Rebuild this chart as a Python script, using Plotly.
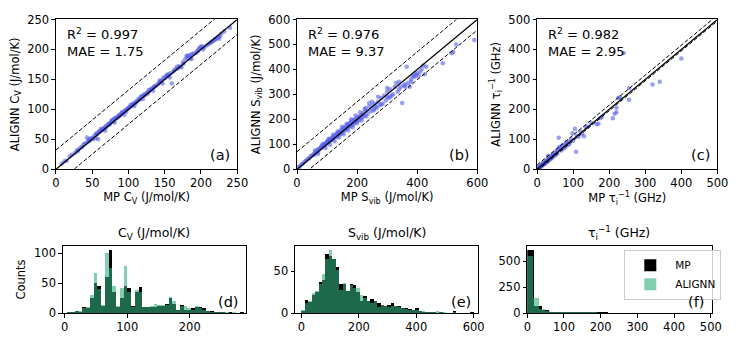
import plotly.graph_objects as go

W, H = 748, 346
FONT = "DejaVu Sans"

# ---- parity data ----
cv_mp = [8, 12, 15, 19, 22, 26, 29, 31, 34, 36, 38, 40, 42, 43, 45, 46, 48, 50, 51, 53,
         55, 56, 57, 58, 59, 60, 61, 63, 64, 66, 67, 69, 70, 72, 73, 75, 76, 78, 79, 80,
         82, 83, 85, 86, 87, 89, 90, 92, 93, 95, 96, 98, 99, 101, 102, 104, 106, 107, 109, 111,
         112, 114, 116, 118, 119, 121, 123, 125, 127, 129, 131, 133, 135, 136, 138, 140, 142, 144, 146, 148,
         150, 152, 154, 156, 158, 160, 163, 165, 168, 170, 172, 175, 178, 180, 182, 184, 186, 188, 190, 193,
         196, 199, 202, 205, 208, 211, 214, 217, 220, 222, 224, 226, 240,
         30, 47, 65, 74, 84, 88, 97, 100, 105, 110, 115, 122, 126, 132, 145, 155, 162, 176, 185, 195,
         200, 215, 225, 228, 232,
         45, 55, 62, 68, 77, 81, 91, 94, 103, 108, 117, 120, 128, 134, 143, 147, 153, 157, 167, 173,
         181, 187, 197, 203, 213, 219]
cv_al = [9, 13, 14, 21, 24, 27, 31, 33, 36, 37, 41, 42, 44, 53, 46, 48, 51, 52, 50, 56,
         58, 60, 59, 50, 62, 63, 64, 65, 66, 69, 68, 72, 71, 75, 76, 77, 79, 82, 80, 84,
         85, 86, 87, 89, 88, 91, 93, 94, 96, 97, 99, 100, 101, 103, 104, 106, 107, 110, 110, 113,
         114, 117, 117, 120, 122, 123, 124, 127, 128, 131, 133, 135, 137, 139, 139, 142, 144, 146, 148, 153,
         152, 155, 158, 158, 160, 143, 165, 167, 168, 172, 171, 178, 183, 189, 190, 188, 191, 192, 193, 194,
         197, 203, 205, 204, 207, 209, 212, 214, 217, 219, 221, 222, 236,
         30, 49, 67, 74, 85, 90, 96, 102, 108, 111, 116, 125, 126, 134, 147, 156, 163, 176, 185, 198,
         205, 213, 218, 226, 230,
         49, 52, 67, 64, 81, 78, 95, 91, 107, 105, 121, 117, 132, 131, 148, 143, 157, 153, 171, 170,
         186, 184, 201, 200, 211, 216]

sv_mp = [5, 10, 15, 20, 25, 30, 35, 40, 45, 50, 55, 58, 60, 65, 68, 70, 72, 75, 78, 80,
         82, 85, 88, 90, 92, 95, 98, 100, 102, 105, 108, 110, 112, 115, 118, 120, 122, 125, 128, 130,
         133, 135, 138, 140, 143, 145, 148, 150, 152, 155, 158, 160, 163, 165, 168, 170, 172, 175, 178, 180,
         183, 185, 188, 190, 193, 195, 198, 200, 203, 205, 208, 210, 213, 215, 218, 220, 225, 230, 235, 240,
         245, 250, 255, 260, 265, 270, 275, 280, 285, 290, 295, 300, 305, 310, 315, 320, 325, 330, 335, 340,
         345, 350, 355, 360, 365, 370, 375, 380, 385, 390, 395, 400, 405, 410, 415, 420, 425, 430, 485, 515,
         520, 530, 590, 240, 228, 262, 300,
         60, 70, 85, 95, 105, 110, 120, 125, 135, 140, 150, 155, 165, 170, 180, 185, 195, 200, 210, 215,
         225, 230, 250, 255, 270, 280, 300, 310, 340, 360, 380, 395]
sv_al = [8, 12, 20, 22, 30, 35, 40, 44, 52, 55, 60, 58, 68, 72, 70, 80, 76, 82, 85, 90,
         86, 95, 92, 100, 96, 105, 102, 112, 108, 115, 110, 120, 116, 125, 118, 130, 124, 135, 130, 140,
         128, 145, 138, 150, 140, 155, 145, 160, 150, 165, 155, 168, 160, 175, 165, 180, 170, 185, 172, 190,
         178, 195, 180, 198, 186, 200, 190, 205, 195, 210, 198, 212, 205, 218, 208, 225, 215, 235, 222, 250,
         232, 255, 240, 262, 245, 270, 255, 285, 262, 295, 275, 310, 285, 320, 295, 300, 330, 345, 310, 320,
         330, 265, 335, 340, 410, 345, 330, 360, 370, 375, 380, 385, 375, 390, 400, 415, 380, 410, 425, 465,
         470, 500, 518, 265, 245, 250, 290,
         75, 62, 100, 85, 122, 98, 138, 112, 150, 128, 170, 140, 182, 155, 200, 168, 215, 185, 228, 195,
         240, 212, 270, 235, 290, 260, 325, 290, 350, 330, 350, 370]

tau_mp = [2, 4, 5, 6, 8, 9, 10, 12, 13, 14, 15, 16, 18, 19, 20, 22, 23, 24, 25, 27,
          28, 29, 30, 31, 32, 34, 35, 36, 38, 40, 41, 43, 45, 46, 48, 50, 52, 54, 56, 58,
          60, 61, 63, 65, 67, 70, 72, 75, 78, 80, 82, 85, 88, 90, 95, 98, 100, 105, 108, 110,
          115, 120, 125, 130, 135, 140, 150, 165, 170, 175, 180, 210, 215, 220, 220, 225, 230, 240, 255, 255,
          320, 340, 400]
tau_al = [3, 6, 3, 8, 7, 12, 10, 9, 15, 12, 18, 14, 20, 16, 22, 18, 25, 21, 28, 24,
          30, 26, 45, 33, 28, 38, 32, 40, 35, 44, 37, 48, 42, 50, 45, 55, 48, 60, 52, 62,
          105, 70, 75, 68, 62, 80, 68, 78, 72, 85, 90, 80, 92, 85, 100, 120, 95, 135, 58, 112,
          108, 125, 118, 110, 140, 142, 155, 150, 152, 170, 175, 170, 185, 190, 205, 238, 240, 388, 232, 270,
          283, 292, 370]

# parity band offsets (upper, lower) drawn around y = x
cv_band = [32, -25]
sv_band = [70, -42]
tau_band = [14, -5]

# ---- histogram data ----
cv_bin_start, cv_bin_w = 4, 6
cv_hist_mp = [1, 2, 3, 2, 10, 9, 25, 50, 45, 12, 60, 105, 35, 10, 25, 45, 42, 12, 35, 43,
              10, 10, 10, 10, 12, 12, 15, 25, 15, 5, 13, 5, 5, 8, 10, 10, 8, 3, 3, 2,
              1, 1, 0, 1, 0, 0, 1, 0]
cv_hist_al = [1, 2, 3, 3, 8, 10, 30, 67, 40, 14, 100, 75, 45, 12, 42, 78, 35, 10, 38, 35,
              10, 10, 12, 15, 13, 14, 13, 27, 20, 5, 12, 12, 8, 6, 12, 9, 6, 4, 2, 1,
              1, 1, 1, 0, 1, 0, 0, 0]

sv_bin_start, sv_bin_w = 0, 12
sv_hist_mp = [3, 16, 13, 22, 25, 37, 40, 70, 68, 65, 55, 35, 35, 27, 35, 33, 25, 15, 20, 15,
              17, 15, 12, 10, 8, 10, 12, 9, 8, 6, 6, 5, 4, 6, 2, 1, 1, 1, 1, 0,
              1, 0, 0, 0, 2, 0, 0, 0, 0, 1]
sv_hist_al = [4, 12, 15, 24, 27, 35, 47, 65, 75, 65, 52, 28, 36, 27, 33, 30, 30, 22, 18, 14,
              12, 14, 7, 10, 9, 7, 9, 8, 7, 6, 5, 4, 4, 4, 3, 2, 1, 1, 1, 2,
              1, 1, 0, 0, 1, 0, 0, 0, 0, 0]

tau_bin_start, tau_bin_w_mp, tau_bin_w_al = 0, 20, 16
tau_hist_mp = [615, 70, 28, 15, 10, 8, 5, 3, 2, 2, 2, 1, 1, 0, 0, 1, 0, 1, 0, 1, 0, 0, 0, 0, 0]
tau_hist_al = [550, 145, 45, 25, 15, 8, 6, 4, 3, 3, 2, 2, 1, 1, 1, 1, 0, 1, 0, 0, 1, 0, 0, 1, 0]

SCAT = "rgba(85,95,235,0.6)"
GREEN = "rgb(50,175,125)"
TICK = 11.5


def px_dom(a, b, total):
    return [a / total, b / total]


def py_dom(top, bottom):
    return [1 - bottom / H, 1 - top / H]


def centers(start, width, n):
    return [start + width * (i + 0.5) for i in range(n)]


def ax_names(k):
    s = "" if k == 1 else str(k)
    return "x" + s, "y" + s, "xaxis" + s, "yaxis" + s


fig = go.Figure()

panels = [
    dict(x=cv_mp, y=cv_al, band=cv_band, rng=250, dt=50, dom=(53, 238),
         xt="MP C<sub>V</sub> (J/mol/K)", yt="ALIGNN C<sub>V</sub> (J/mol/K)",
         txt="R<sup>2</sup> = 0.997<br>MAE = 1.75", tag="(a)"),
    dict(x=sv_mp, y=sv_al, band=sv_band, rng=600, dt=200, dty=100, dom=(299, 483),
         xt="MP S<sub>vib</sub> (J/mol/K)", yt="ALIGNN S<sub>vib</sub> (J/mol/K)",
         txt="R<sup>2</sup> = 0.976<br>MAE = 9.37", tag="(b)"),
    dict(x=tau_mp, y=tau_al, band=tau_band, rng=500, dt=100, dom=(544, 728),
         xt="MP τ<sub>i</sub><sup>−1</sup> (GHz)", yt="ALIGNN τ<sub>i</sub><sup>−1</sup> (GHz)",
         txt="R<sup>2</sup> = 0.982<br>MAE = 2.95", tag="(c)"),
]

axis_common = dict(showline=True, linecolor="black", linewidth=1, mirror=True,
                   ticks="outside", ticklen=3.5, tickcolor="black", showgrid=False,
                   zeroline=False, tickfont=dict(size=TICK, color="black"))

layout = {}
for i, p in enumerate(panels):
    xa, ya, xk, yk = ax_names(i + 1)
    r = p["rng"]
    fig.add_trace(go.Scatter(x=p["x"], y=p["y"], mode="markers", xaxis=xa, yaxis=ya,
                             marker=dict(size=4.5, color=SCAT, line=dict(width=0)),
                             showlegend=False, hoverinfo="skip"))
    fig.add_trace(go.Scatter(x=[0, r], y=[0, r], mode="lines", xaxis=xa, yaxis=ya,
                             line=dict(color="black", width=1.2), showlegend=False))
    for off in p["band"]:
        fig.add_trace(go.Scatter(x=[0, r], y=[off, r + off], mode="lines", xaxis=xa, yaxis=ya,
                                 line=dict(color="black", width=1, dash="4px,2px"),
                                 showlegend=False))
    layout[xk] = dict(axis_common, domain=px_dom(*p["dom"], W), anchor=ya,
                      range=[0, r], dtick=p["dt"], tick0=0,
                      title=dict(text=p["xt"], font=dict(size=11.5), standoff=3))
    layout[yk] = dict(axis_common, domain=py_dom(13, 169), anchor=xa,
                      range=[0, r], dtick=p.get("dty", p["dt"]), tick0=0,
                      title=dict(text=p["yt"], font=dict(size=11.5), standoff=5))

hists = [
    dict(mp=cv_hist_mp, al=cv_hist_al, start=cv_bin_start, wm=cv_bin_w, wa=cv_bin_w,
         xr=[-3, 290], xdt=100, yr=[0, 112], ydt=50, dom=(60, 247),
         title="C<sub>V</sub> (J/mol/K)", tag="(d)"),
    dict(mp=sv_hist_mp, al=sv_hist_al, start=sv_bin_start, wm=sv_bin_w, wa=sv_bin_w,
         xr=[-22, 616], xdt=200, yr=[0, 80], ydt=50, dom=(297, 484),
         title="S<sub>vib</sub> (J/mol/K)", tag="(e)"),
    dict(mp=tau_hist_mp, al=tau_hist_al, start=tau_bin_start, wm=tau_bin_w_mp, wa=tau_bin_w_al,
         xr=[0, 502], xdt=100, yr=[0, 650], ydt=250, dom=(534, 722),
         title="τ<sub>i</sub><sup>−1</sup> (GHz)", tag="(f)"),
]

for j, h in enumerate(hists):
    k = j + 4
    xa, ya, xk, yk = ax_names(k)
    legend = k == 6
    fig.add_trace(go.Bar(x=centers(h["start"], h["wm"], len(h["mp"])), y=h["mp"], width=h["wm"],
                         marker=dict(color="black", line=dict(width=0)), name="MP",
                         xaxis=xa, yaxis=ya, showlegend=legend))
    fig.add_trace(go.Bar(x=centers(h["start"], h["wa"], len(h["al"])), y=h["al"], width=h["wa"],
                         marker=dict(color=GREEN, line=dict(width=0)), opacity=0.6, name="ALIGNN",
                         xaxis=xa, yaxis=ya, showlegend=legend))
    layout[xk] = dict(axis_common, domain=px_dom(*h["dom"], W), anchor=ya,
                      range=h["xr"], dtick=h["xdt"], tick0=0)
    ydict = dict(axis_common, domain=py_dom(249, 319), anchor=xa, range=h["yr"],
                 dtick=h["ydt"], tick0=0)
    if k == 4:
        ydict["title"] = dict(text="Counts", font=dict(size=11.5), standoff=6)
    layout[yk] = ydict

annotations = []
for i, p in enumerate(panels):
    xa, ya, _, _ = ax_names(i + 1)
    annotations.append(dict(text=p["txt"], xref=f"{xa} domain", yref=f"{ya} domain",
                            x=0.05, y=0.97, xanchor="left", yanchor="top", showarrow=False,
                            align="left", font=dict(size=13, color="black")))
    annotations.append(dict(text=p["tag"], xref=f"{xa} domain", yref=f"{ya} domain",
                            x=0.97, y=0.03, xanchor="right", yanchor="bottom", showarrow=False,
                            font=dict(size=14.5, color="black")))
for j, h in enumerate(hists):
    xa, ya, _, _ = ax_names(j + 4)
    annotations.append(dict(text=h["title"], xref=f"{xa} domain", yref="paper",
                            x=0.5, y=1 - 236 / H, xanchor="center", yanchor="middle",
                            showarrow=False, font=dict(size=12.5, color="black")))
    annotations.append(dict(text=h["tag"], xref=f"{xa} domain", yref=f"{ya} domain",
                            x=0.97, y=0.02, xanchor="right", yanchor="bottom", showarrow=False,
                            font=dict(size=14.5, color="black")))

fig.update_layout(
    width=W, height=H, margin=dict(l=0, r=0, t=0, b=0),
    paper_bgcolor="white", plot_bgcolor="white",
    font=dict(family=FONT, color="black"),
    barmode="overlay", bargap=0,
    annotations=annotations,
    legend=dict(x=633 / W, y=1 - 253 / H, xanchor="left", yanchor="top",
                bordercolor="#cccccc", borderwidth=1, bgcolor="rgba(255,255,255,0.8)",
                font=dict(size=10.5), itemwidth=40, tracegroupgap=0),
    **layout,
)

# browser default body margin would push the figure 8px down/right
fig.write_html("out.html", config={"displayModeBar": False},
               post_script="document.body.style.margin='0';")
